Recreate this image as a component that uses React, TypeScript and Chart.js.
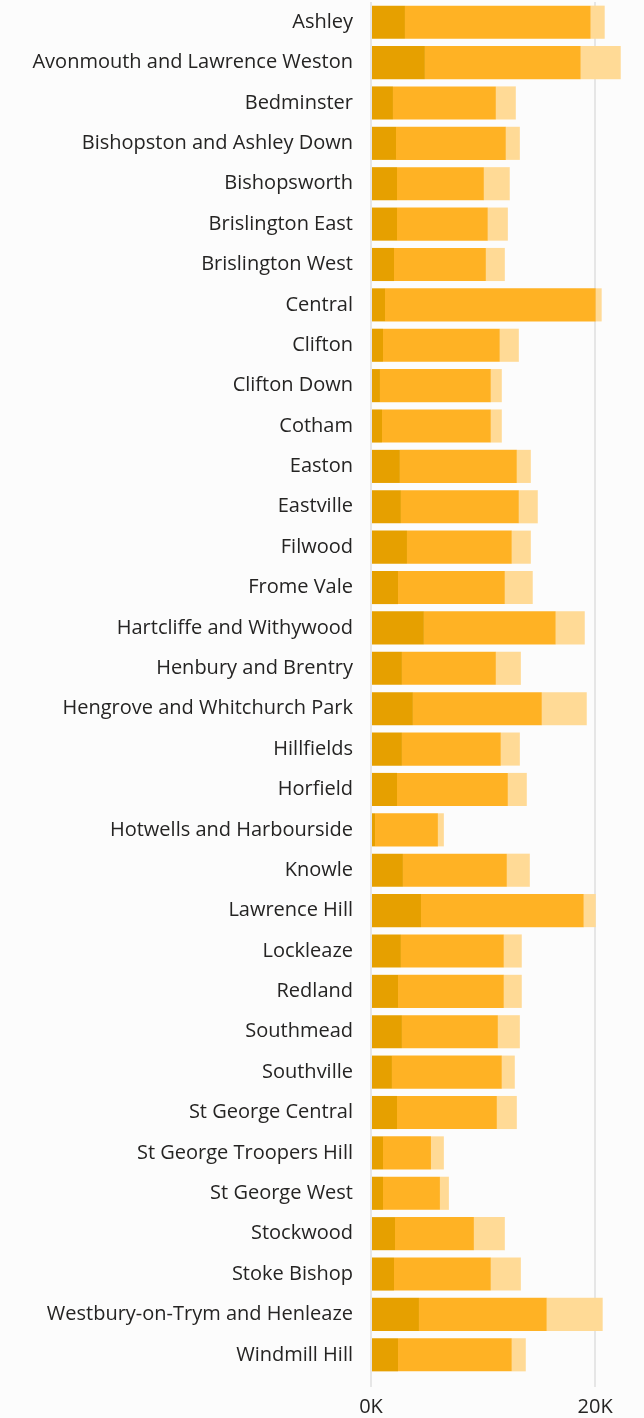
import React, { useEffect, useRef } from "react";
import { Chart, registerables } from "chart.js";

Chart.register(...registerables);

const wards: string[] = [
  "Ashley",
  "Avonmouth and Lawrence Weston",
  "Bedminster",
  "Bishopston and Ashley Down",
  "Bishopsworth",
  "Brislington East",
  "Brislington West",
  "Central",
  "Clifton",
  "Clifton Down",
  "Cotham",
  "Easton",
  "Eastville",
  "Filwood",
  "Frome Vale",
  "Hartcliffe and Withywood",
  "Henbury and Brentry",
  "Hengrove and Whitchurch Park",
  "Hillfields",
  "Horfield",
  "Hotwells and Harbourside",
  "Knowle",
  "Lawrence Hill",
  "Lockleaze",
  "Redland",
  "Southmead",
  "Southville",
  "St George Central",
  "St George Troopers Hill",
  "St George West",
  "Stockwood",
  "Stoke Bishop",
  "Westbury-on-Trym and Henleaze",
  "Windmill Hill",
];

const series1: number[] = [
  3030, 4810, 1960, 2230, 2320, 2320, 2050, 1250, 1070, 800, 980, 2580, 2670,
  3210, 2410, 4720, 2760, 3740, 2760, 2320, 360, 2850, 4460, 2670, 2410, 2760,
  1870, 2320, 1070, 1070, 2140, 2050, 4280, 2410,
];

const series2: number[] = [
  16570, 13900, 9180, 9800, 7750, 8100, 8200, 18800, 10420, 9890, 9710, 10430,
  10520, 9350, 9530, 11760, 8380, 11500, 8820, 9890, 5610, 9270, 14520, 9180,
  9440, 8560, 9800, 8910, 4280, 5080, 7040, 8640, 11400, 10150,
];

const series3: number[] = [
  1250, 3570, 1780, 1250, 2310, 1790, 1690, 530, 1700, 980, 980, 1250, 1690,
  1700, 2490, 2590, 2230, 4010, 1700, 1690, 530, 2050, 1070, 1600, 1600, 1960,
  1160, 1780, 1150, 800, 2760, 2680, 4990, 1250,
];

const xTicks: number[] = [0, 20000];

const FONT = "'Open Sans', 'Noto Sans', sans-serif";

export default function App() {
  const canvasRef = useRef<HTMLCanvasElement | null>(null);

  useEffect(() => {
    if (!canvasRef.current) return;
    const chart = new Chart(canvasRef.current, {
      type: "bar",
      data: {
        labels: wards,
        datasets: [
          {
            label: "Series 1",
            data: series1,
            backgroundColor: "#E6A000",
            categoryPercentage: 0.82,
            barPercentage: 1,
          },
          {
            label: "Series 2",
            data: series2,
            backgroundColor: "#FFB224",
            categoryPercentage: 0.82,
            barPercentage: 1,
          },
          {
            label: "Series 3",
            data: series3,
            backgroundColor: "#FFDA96",
            categoryPercentage: 0.82,
            barPercentage: 1,
          },
        ],
      },
      options: {
        indexAxis: "y",
        animation: false,
        responsive: true,
        maintainAspectRatio: false,
        layout: { padding: { top: 2, right: 4, bottom: 0, left: 0 } },
        plugins: {
          legend: { display: false },
          tooltip: { enabled: false },
        },
        scales: {
          y: {
            stacked: true,
            grid: { display: false },
            border: { display: false },
            afterFit: (scale: any) => {
              scale.width = 371;
              scale.paddingTop = 0;
              scale.paddingBottom = 0;
            },
            ticks: {
              padding: 10,
              color: "#252423",
              font: { family: FONT, size: 20 },
              autoSkip: false,
            },
          },
          x: {
            stacked: true,
            min: 0,
            max: 24000,
            afterBuildTicks: (scale: any) => {
              scale.ticks = xTicks.map((v) => ({ value: v }));
            },
            afterFit: (scale: any) => {
              scale.height = 43;
            },
            grid: {
              color: "#E6E6E6",
              lineWidth: 2,
              tickLength: 12,
            },
            border: { display: false },
            ticks: {
              padding: 8,
              color: "#252423",
              font: { family: FONT, size: 20 },
              callback: (v: any) => `${Math.round(Number(v) / 1000)}K`,
            },
          },
        },
      },
    });
    return () => chart.destroy();
  }, []);

  return (
    <div
      style={{
        position: "fixed",
        left: 0,
        top: 0,
        width: 644,
        height: 1418,
        background: "#FCFCFC",
      }}
    >
      <canvas ref={canvasRef} />
    </div>
  );
}
